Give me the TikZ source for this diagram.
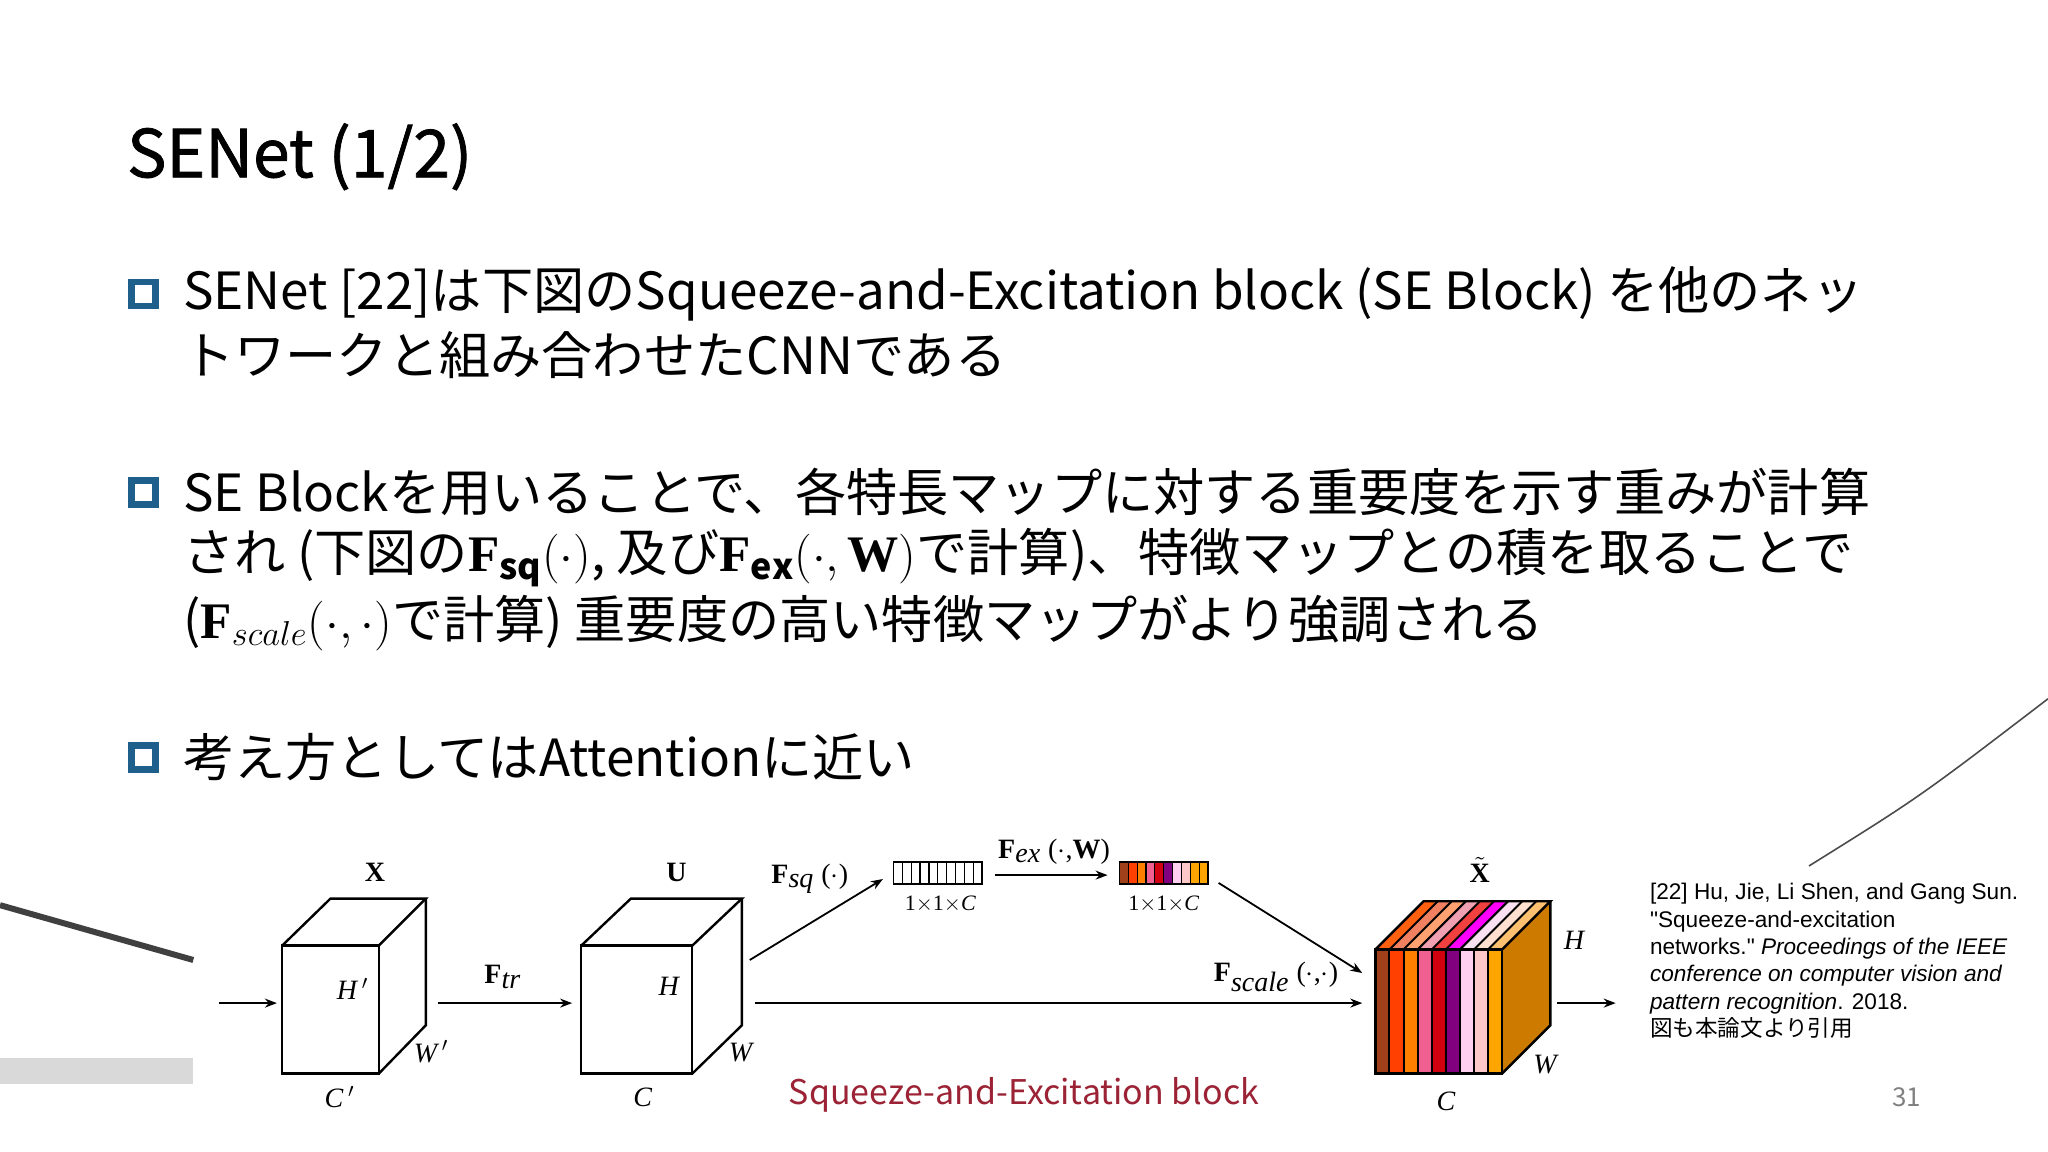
\documentclass[tikz,border=0pt]{standalone}
\usepackage{fontspec}
\setmainfont{Noto Sans CJK JP}
\newfontfamily\titlef[FakeBold=1.2]{Noto Sans CJK JP}
\newfontfamily\serifd{Liberation Serif}
\newfontfamily\refd{Liberation Sans}
\usetikzlibrary{arrows.meta}
\definecolor{bul}{HTML}{1F5F8B}
\definecolor{sered}{HTML}{9B2335}
\definecolor{rf}{HTML}{CC7A00}
\newcommand{\bF}{\mbox{\serifd\bfseries F}}
\newcommand{\bW}{\mbox{\serifd\bfseries W}}
\tikzset{
  bx/.style={draw=bul,line width=3.2pt,minimum size=12pt,inner sep=0pt},
  body/.style={anchor=west,inner sep=0pt,font=\fontsize{25.6}{30}\selectfont},
  dl/.style={font=\serifd\fontsize{14}{16}\selectfont,inner sep=0pt},
  ar/.style={-{Stealth[length=6pt,width=4.5pt]},line width=0.9pt},
  cub/.style={line width=1.2pt},
}
\begin{document}
\begin{tikzpicture}[x=0.653pt,y=-0.653pt]
\useasboundingbox (0,0) rectangle (1568,882);
% artifacts
\draw[line width=3pt,black!75] (0,693) -- (148,735);
\fill[black!15] (0,810) rectangle (148,830);
\draw[line width=0.8pt,black!70] (1385,663) .. controls (1470,610) .. (1568,535);
% title
\node[anchor=west,inner sep=0pt,font=\titlef\fontsize{33}{40}\selectfont] (title) at (97,120) {SENet (1/2)};
% bullets
\node[bx] (b1) at (110,225) {};
\node[bx] (b2) at (110,377) {};
\node[bx] (b3) at (110,580) {};
\node[body] (t1a) at (140,225) {SENet [22]は下図のSqueeze-and-Excitation block (SE Block) を他のネッ};
\node[body] (t1b) at (140,272) {トワークと組み合わせたCNNである};
\node[body] (t2a) at (140,377) {SE Blockを用いることで、各特長マップに対する重要度を示す重みが計算};
\node[body] (t2b) at (140,427) {され (下図の$\bF_{\mathbf{sq}}(\cdot)$, 及び$\bF_{\mathbf{ex}}(\cdot,\bW)$で計算)、特徴マップとの積を取ることで};
\node[body] (t2c) at (140,477) {($\bF_{scale}(\cdot,\cdot)$で計算) 重要度の高い特徴マップがより強調される};
\node[body] (t3) at (140,580) {考え方としてはAttentionに近い};
% cube X
\draw[cub] (216,724) rectangle (290,822);
\draw[cub] (216,724) -- (253,688) -- (326,688) -- (290,724);
\draw[cub] (326,688) -- (326,785) -- (290,822);
\coordinate (in) at (168,768);
\node[dl,font=\serifd\bfseries\fontsize{14}{16}\selectfont] (Xl) at (287,668) {X};
\node[dl] at (270,757) {\itshape H\,$'$};
\node[dl] at (330,805) {\itshape W\,$'$};
\node[dl] at (260,840) {\itshape C\,$'$};
% cube U
\draw[cub] (445,724) rectangle (530,822);
\draw[cub] (445,724) -- (483,688) -- (568,688) -- (530,724);
\draw[cub] (568,688) -- (568,785) -- (530,822);
\coordinate (ul) at (438,768); \coordinate (ur) at (578,768); \coordinate (ud) at (574,735);
\coordinate (xr) at (335,768);
\node[dl,font=\serifd\bfseries\fontsize{14}{16}\selectfont] at (518,668) {U};
\node[dl] at (512,755) {\itshape H};
\node[dl] at (567,806) {\itshape W};
\node[dl] at (492,840) {\itshape C};
\coordinate (xin) at (212,768);
\draw[ar] (in) -- (xin);
\draw[ar] (xr) -- (ul);
\node[dl] at (385,748) {\textbf{F}$_{\textit{tr}}$};
% vector 1
\node[draw,line width=0.8pt,minimum width=68*0.653pt,minimum height=17*0.653pt,inner sep=0pt] (v1) at (718,668.5) {};
\foreach \i in {1,...,9} \draw[line width=0.6pt] (684+6.8*\i,660) -- (684+6.8*\i,677);
\node[dl,font=\serifd\fontsize{11}{13}\selectfont] at (720,692) {1$\times$1$\times$\textit{C}};
\coordinate (fsqe) at (676,673);
\draw[ar] (ud) -- (fsqe);
\node[dl] at (620,673) {\textbf{F}$_{\textit{sq}}$ ($\cdot$)};
% vector 2
\foreach \c [count=\i from 0] in {A0401A,FF4000,FF7F00,F06090,D00010,800080,FFD0F0,FFC8C8,FFA500,FFA500}{
  \definecolor{tmpc}{HTML}{\c}
  \fill[tmpc] (857+6.8*\i,660) rectangle (857+6.8*\i+6.8,677);}
\foreach \i in {1,...,9} \draw[line width=0.6pt] (857+6.8*\i,660) -- (857+6.8*\i,677);
\node[draw,line width=0.8pt,minimum width=68*0.653pt,minimum height=17*0.653pt,inner sep=0pt] (v2) at (891,668.5) {};
\node[dl,font=\serifd\fontsize{11}{13}\selectfont] at (891,692) {1$\times$1$\times$\textit{C}};
\coordinate (fexs) at (762,670); \coordinate (fexe) at (848,670);
\draw[ar] (fexs) -- (fexe);
\node[dl] at (807,652) {\textbf{F}$_{\textit{ex}}$ ($\cdot$,\textbf{W})};
% X tilde block
\fill[rf] (1150,727) -- (1187,690) -- (1187,785) -- (1150,822) -- cycle;
\foreach \c [count=\i from 0] in {A0401A,FF4000,FF7F00,F06090,D00010,800080,FFD0F0,FFC8C8,FFA500}{
  \definecolor{tmpc}{HTML}{\c}
  \fill[tmpc] (1053+10.78*\i,727) rectangle (1053+10.78*\i+10.78,822);}
\foreach \c [count=\i from 0] in {FF6010,F08060,FFA070,F0A0B0,F04040,FF00FF,F8E0F0,FFE0D0,FFC070}{
  \definecolor{tmpc}{HTML}{\c}
  \fill[tmpc] (1053+10.78*\i,727) -- (1090+10.78*\i,690) -- (1090+10.78*\i+10.78,690) -- (1053+10.78*\i+10.78,727) -- cycle;}
\foreach \i in {1,...,8} {
  \draw[line width=1pt] (1053+10.78*\i,727) -- (1053+10.78*\i,822);
  \draw[line width=1pt] (1053+10.78*\i,727) -- (1090+10.78*\i,690);}
\draw[cub] (1053,727) rectangle (1150,822);
\draw[cub] (1053,727) -- (1090,690) -- (1187,690) -- (1150,727);
\draw[cub] (1187,690) -- (1187,785) -- (1150,822);
\coordinate (tl) at (1043,768); \coordinate (tr) at (1192,768); \coordinate (tt) at (1043,745);
\coordinate (v2o) at (933,676);
\node[dl,font=\serifd\bfseries\fontsize{14}{16}\selectfont] at (1133,666) {$\tilde{\mbox{X}}$};
\node[dl] at (1205,720) {\itshape H};
\node[dl] at (1183,815) {\itshape W};
\node[dl] at (1107,843) {\itshape C};
\draw[ar] (v2o) -- (tt);
\draw[ar] (ur) -- (tl);
\node[dl] at (977,748) {\textbf{F}$_{\textit{scale}}$ ($\cdot$,$\cdot$)};
\coordinate (out) at (1237,768);
\draw[ar] (tr) -- (out);
% reference
\node[anchor=north west,inner sep=0pt,align=left,font=\refd\fontsize{11.3}{13.7}\selectfont] (ref) at (1263,676)
 {[22] Hu, Jie, Li Shen, and Gang Sun.\\"Squeeze-and-excitation\\networks." \textit{Proceedings of the IEEE}\\\textit{conference on computer vision and}\\\textit{pattern recognition}. 2018.\\{\rmfamily 図も本論文より引用}};
\node[text=sered,inner sep=0pt,font=\fontsize{17}{20}\selectfont] (cap) at (784,838) {Squeeze-and-Excitation block};
\node[text=black!50,inner sep=0pt,font=\fontsize{13}{15}\selectfont] (pg) at (1460,840) {31};
\end{tikzpicture}
\end{document}
